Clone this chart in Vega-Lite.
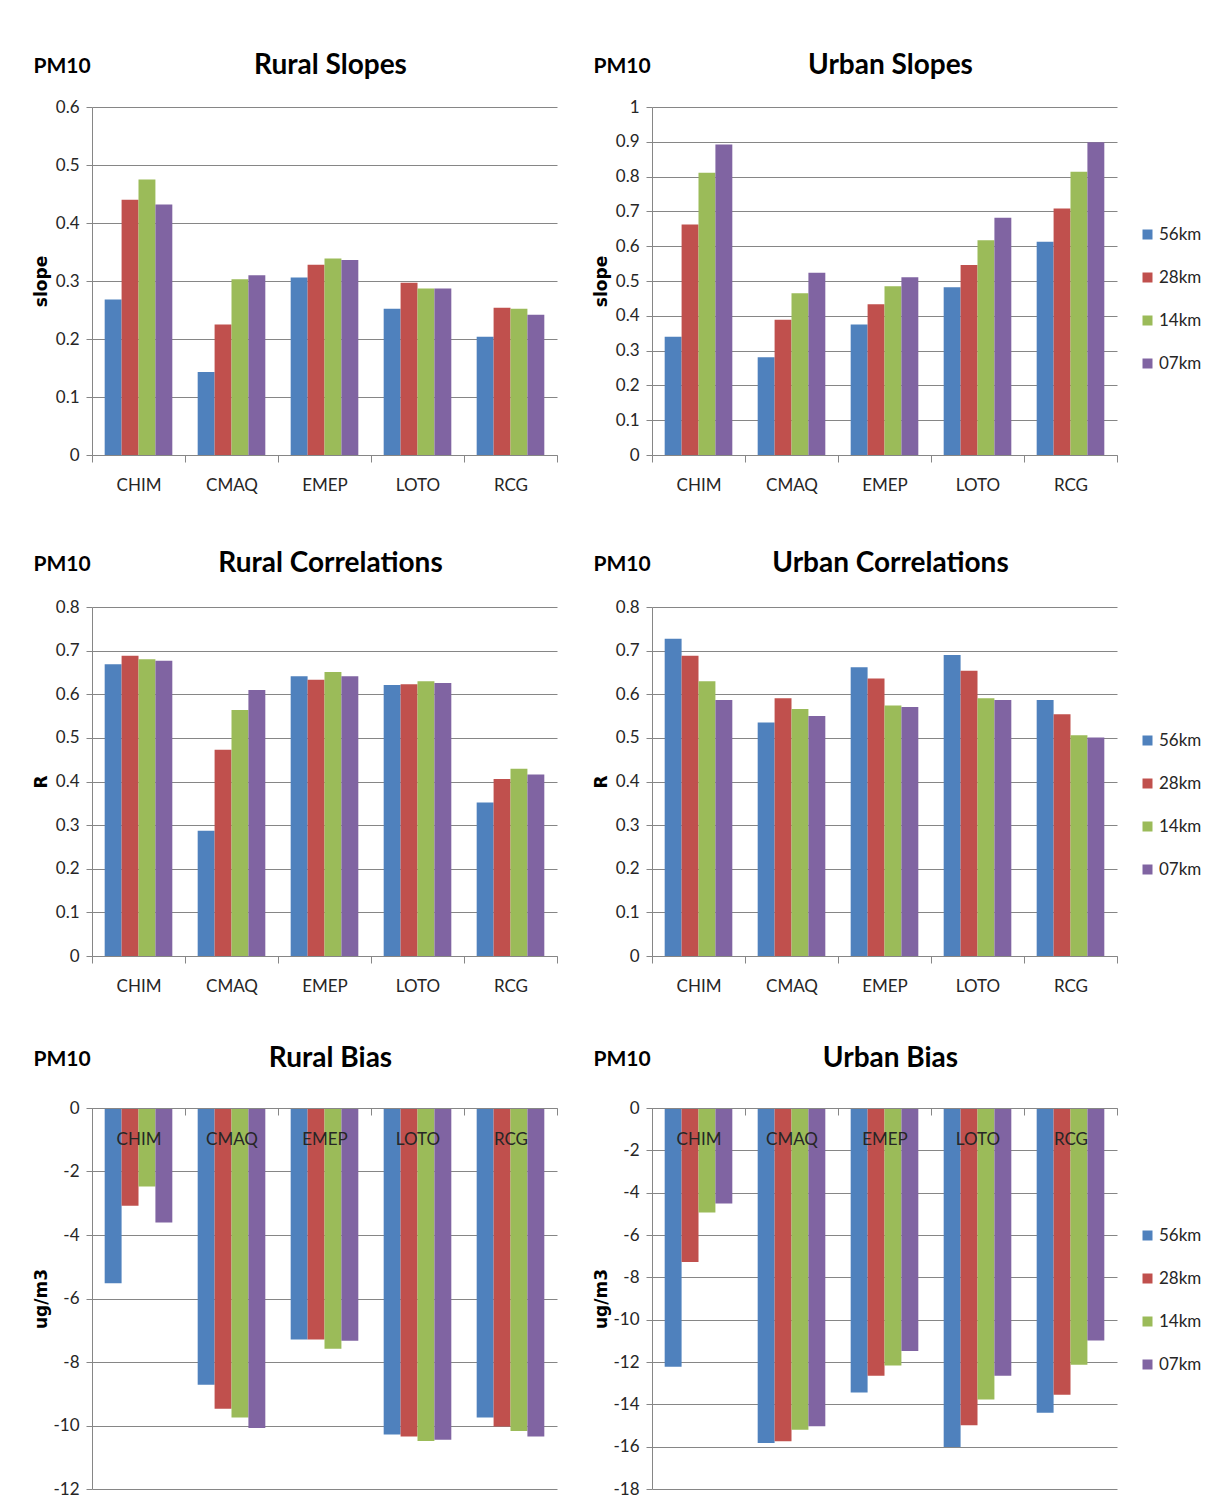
{
  "$schema": "https://vega.github.io/schema/vega-lite/v6.json",
  "background": "white",
  "padding": {"left": 32, "top": 52, "right": 11, "bottom": 22},
  "columns": 2,
  "spacing": {"row": 152, "column": 95},
  "bounds": "flush",
  "resolve": {
    "scale": {"x": "independent", "y": "independent", "xOffset": "independent", "color": "independent"},
    "axis": {"x": "independent", "y": "independent"},
    "legend": {"color": "independent"}
  },
  "datasets": {
    "rural_slopes": [
      {"model": "CHIM", "res": "56km", "value": 0.268}, {"model": "CHIM", "res": "28km", "value": 0.440}, {"model": "CHIM", "res": "14km", "value": 0.475}, {"model": "CHIM", "res": "07km", "value": 0.432},
      {"model": "CMAQ", "res": "56km", "value": 0.143}, {"model": "CMAQ", "res": "28km", "value": 0.225}, {"model": "CMAQ", "res": "14km", "value": 0.303}, {"model": "CMAQ", "res": "07km", "value": 0.310},
      {"model": "EMEP", "res": "56km", "value": 0.306}, {"model": "EMEP", "res": "28km", "value": 0.328}, {"model": "EMEP", "res": "14km", "value": 0.339}, {"model": "EMEP", "res": "07km", "value": 0.336},
      {"model": "LOTO", "res": "56km", "value": 0.252}, {"model": "LOTO", "res": "28km", "value": 0.297}, {"model": "LOTO", "res": "14km", "value": 0.287}, {"model": "LOTO", "res": "07km", "value": 0.287},
      {"model": "RCG", "res": "56km", "value": 0.204}, {"model": "RCG", "res": "28km", "value": 0.254}, {"model": "RCG", "res": "14km", "value": 0.252}, {"model": "RCG", "res": "07km", "value": 0.242}
    ],
    "urban_slopes": [
      {"model": "CHIM", "res": "56km", "value": 0.340}, {"model": "CHIM", "res": "28km", "value": 0.662}, {"model": "CHIM", "res": "14km", "value": 0.811}, {"model": "CHIM", "res": "07km", "value": 0.892},
      {"model": "CMAQ", "res": "56km", "value": 0.281}, {"model": "CMAQ", "res": "28km", "value": 0.389}, {"model": "CMAQ", "res": "14km", "value": 0.465}, {"model": "CMAQ", "res": "07km", "value": 0.524},
      {"model": "EMEP", "res": "56km", "value": 0.375}, {"model": "EMEP", "res": "28km", "value": 0.433}, {"model": "EMEP", "res": "14km", "value": 0.485}, {"model": "EMEP", "res": "07km", "value": 0.511},
      {"model": "LOTO", "res": "56km", "value": 0.482}, {"model": "LOTO", "res": "28km", "value": 0.546}, {"model": "LOTO", "res": "14km", "value": 0.617}, {"model": "LOTO", "res": "07km", "value": 0.682},
      {"model": "RCG", "res": "56km", "value": 0.613}, {"model": "RCG", "res": "28km", "value": 0.708}, {"model": "RCG", "res": "14km", "value": 0.814}, {"model": "RCG", "res": "07km", "value": 0.899}
    ],
    "rural_corr": [
      {"model": "CHIM", "res": "56km", "value": 0.669}, {"model": "CHIM", "res": "28km", "value": 0.688}, {"model": "CHIM", "res": "14km", "value": 0.680}, {"model": "CHIM", "res": "07km", "value": 0.677},
      {"model": "CMAQ", "res": "56km", "value": 0.287}, {"model": "CMAQ", "res": "28km", "value": 0.473}, {"model": "CMAQ", "res": "14km", "value": 0.564}, {"model": "CMAQ", "res": "07km", "value": 0.610},
      {"model": "EMEP", "res": "56km", "value": 0.641}, {"model": "EMEP", "res": "28km", "value": 0.633}, {"model": "EMEP", "res": "14km", "value": 0.651}, {"model": "EMEP", "res": "07km", "value": 0.641},
      {"model": "LOTO", "res": "56km", "value": 0.621}, {"model": "LOTO", "res": "28km", "value": 0.623}, {"model": "LOTO", "res": "14km", "value": 0.630}, {"model": "LOTO", "res": "07km", "value": 0.626},
      {"model": "RCG", "res": "56km", "value": 0.352}, {"model": "RCG", "res": "28km", "value": 0.406}, {"model": "RCG", "res": "14km", "value": 0.429}, {"model": "RCG", "res": "07km", "value": 0.416}
    ],
    "urban_corr": [
      {"model": "CHIM", "res": "56km", "value": 0.727}, {"model": "CHIM", "res": "28km", "value": 0.688}, {"model": "CHIM", "res": "14km", "value": 0.630}, {"model": "CHIM", "res": "07km", "value": 0.587},
      {"model": "CMAQ", "res": "56km", "value": 0.535}, {"model": "CMAQ", "res": "28km", "value": 0.591}, {"model": "CMAQ", "res": "14km", "value": 0.566}, {"model": "CMAQ", "res": "07km", "value": 0.550},
      {"model": "EMEP", "res": "56km", "value": 0.662}, {"model": "EMEP", "res": "28km", "value": 0.636}, {"model": "EMEP", "res": "14km", "value": 0.574}, {"model": "EMEP", "res": "07km", "value": 0.571},
      {"model": "LOTO", "res": "56km", "value": 0.690}, {"model": "LOTO", "res": "28km", "value": 0.654}, {"model": "LOTO", "res": "14km", "value": 0.591}, {"model": "LOTO", "res": "07km", "value": 0.587},
      {"model": "RCG", "res": "56km", "value": 0.587}, {"model": "RCG", "res": "28km", "value": 0.554}, {"model": "RCG", "res": "14km", "value": 0.506}, {"model": "RCG", "res": "07km", "value": 0.501}
    ],
    "rural_bias": [
      {"model": "CHIM", "res": "56km", "value": -5.52}, {"model": "CHIM", "res": "28km", "value": -3.08}, {"model": "CHIM", "res": "14km", "value": -2.47}, {"model": "CHIM", "res": "07km", "value": -3.61},
      {"model": "CMAQ", "res": "56km", "value": -8.72}, {"model": "CMAQ", "res": "28km", "value": -9.47}, {"model": "CMAQ", "res": "14km", "value": -9.75}, {"model": "CMAQ", "res": "07km", "value": -10.08},
      {"model": "EMEP", "res": "56km", "value": -7.29}, {"model": "EMEP", "res": "28km", "value": -7.29}, {"model": "EMEP", "res": "14km", "value": -7.58}, {"model": "EMEP", "res": "07km", "value": -7.33},
      {"model": "LOTO", "res": "56km", "value": -10.28}, {"model": "LOTO", "res": "28km", "value": -10.35}, {"model": "LOTO", "res": "14km", "value": -10.49}, {"model": "LOTO", "res": "07km", "value": -10.45},
      {"model": "RCG", "res": "56km", "value": -9.75}, {"model": "RCG", "res": "28km", "value": -10.03}, {"model": "RCG", "res": "14km", "value": -10.17}, {"model": "RCG", "res": "07km", "value": -10.35}
    ],
    "urban_bias": [
      {"model": "CHIM", "res": "56km", "value": -12.22}, {"model": "CHIM", "res": "28km", "value": -7.27}, {"model": "CHIM", "res": "14km", "value": -4.94}, {"model": "CHIM", "res": "07km", "value": -4.51},
      {"model": "CMAQ", "res": "56km", "value": -15.83}, {"model": "CMAQ", "res": "28km", "value": -15.74}, {"model": "CMAQ", "res": "14km", "value": -15.20}, {"model": "CMAQ", "res": "07km", "value": -15.04},
      {"model": "EMEP", "res": "56km", "value": -13.44}, {"model": "EMEP", "res": "28km", "value": -12.65}, {"model": "EMEP", "res": "14km", "value": -12.17}, {"model": "EMEP", "res": "07km", "value": -11.48},
      {"model": "LOTO", "res": "56km", "value": -16.02}, {"model": "LOTO", "res": "28km", "value": -14.99}, {"model": "LOTO", "res": "14km", "value": -13.77}, {"model": "LOTO", "res": "07km", "value": -12.65},
      {"model": "RCG", "res": "56km", "value": -14.40}, {"model": "RCG", "res": "28km", "value": -13.55}, {"model": "RCG", "res": "14km", "value": -12.13}, {"model": "RCG", "res": "07km", "value": -10.99}
    ]
  },
  "concat": [
    {
      "width": 465, "height": 348,
      "data": {"name": "rural_slopes"},
      "title": {"text": "Rural Slopes", "dx": 6},
      "mark": "bar",
      "encoding": {
        "x": {"field": "model", "type": "nominal", "scale": {"paddingInner": 0, "paddingOuter": 0}, "axis": {"title": "PM10", "titleY": -383}},
        "xOffset": {"field": "res", "type": "nominal", "sort": ["56km", "28km", "14km", "07km"], "scale": {"paddingInner": 0, "paddingOuter": 0.75}},
        "y": {"field": "value", "type": "quantitative", "scale": {"domain": [0, 0.6], "nice": false}, "axis": {"title": "slope", "titleY": 174, "values": [0, 0.1, 0.2, 0.3, 0.4, 0.5, 0.6]}},
        "color": {"field": "res", "type": "nominal", "scale": {"domain": ["56km", "28km", "14km", "07km"], "range": ["#4F81BD", "#C0504D", "#9BBB59", "#8064A2"]}, "legend": null}
      }
    },
    {
      "width": 465, "height": 348,
      "data": {"name": "urban_slopes"},
      "title": {"text": "Urban Slopes", "dx": 6},
      "mark": "bar",
      "encoding": {
        "x": {"field": "model", "type": "nominal", "scale": {"paddingInner": 0, "paddingOuter": 0}, "axis": {"title": "PM10", "titleY": -383}},
        "xOffset": {"field": "res", "type": "nominal", "sort": ["56km", "28km", "14km", "07km"], "scale": {"paddingInner": 0, "paddingOuter": 0.75}},
        "y": {"field": "value", "type": "quantitative", "scale": {"domain": [0, 1], "nice": false}, "axis": {"title": "slope", "titleY": 174, "values": [0, 0.1, 0.2, 0.3, 0.4, 0.5, 0.6, 0.7, 0.8, 0.9, 1]}},
        "color": {"field": "res", "type": "nominal", "scale": {"domain": ["56km", "28km", "14km", "07km"], "range": ["#4F81BD", "#C0504D", "#9BBB59", "#8064A2"]}, "legend": {"legendY": 119}}
      }
    },
    {
      "width": 465, "height": 349,
      "data": {"name": "rural_corr"},
      "title": {"text": "Rural Correlations", "dx": 6},
      "mark": "bar",
      "encoding": {
        "x": {"field": "model", "type": "nominal", "scale": {"paddingInner": 0, "paddingOuter": 0}, "axis": {"title": "PM10", "titleY": -386}},
        "xOffset": {"field": "res", "type": "nominal", "sort": ["56km", "28km", "14km", "07km"], "scale": {"paddingInner": 0, "paddingOuter": 0.75}},
        "y": {"field": "value", "type": "quantitative", "scale": {"domain": [0, 0.8], "nice": false}, "axis": {"title": "R", "titleY": 174.5, "values": [0, 0.1, 0.2, 0.3, 0.4, 0.5, 0.6, 0.7, 0.8]}},
        "color": {"field": "res", "type": "nominal", "scale": {"domain": ["56km", "28km", "14km", "07km"], "range": ["#4F81BD", "#C0504D", "#9BBB59", "#8064A2"]}, "legend": null}
      }
    },
    {
      "width": 465, "height": 349,
      "data": {"name": "urban_corr"},
      "title": {"text": "Urban Correlations", "dx": 6},
      "mark": "bar",
      "encoding": {
        "x": {"field": "model", "type": "nominal", "scale": {"paddingInner": 0, "paddingOuter": 0}, "axis": {"title": "PM10", "titleY": -386}},
        "xOffset": {"field": "res", "type": "nominal", "sort": ["56km", "28km", "14km", "07km"], "scale": {"paddingInner": 0, "paddingOuter": 0.75}},
        "y": {"field": "value", "type": "quantitative", "scale": {"domain": [0, 0.8], "nice": false}, "axis": {"title": "R", "titleY": 174.5, "values": [0, 0.1, 0.2, 0.3, 0.4, 0.5, 0.6, 0.7, 0.8]}},
        "color": {"field": "res", "type": "nominal", "scale": {"domain": ["56km", "28km", "14km", "07km"], "range": ["#4F81BD", "#C0504D", "#9BBB59", "#8064A2"]}, "legend": {"legendY": 125}}
      }
    },
    {
      "width": 465, "height": 381,
      "data": {"name": "rural_bias"},
      "title": {"text": "Rural Bias", "dx": 6},
      "mark": "bar",
      "encoding": {
        "x": {"field": "model", "type": "nominal", "scale": {"paddingInner": 0, "paddingOuter": 0}, "axis": {"title": "PM10", "titleY": -43, "offset": -381, "labelPadding": 16, "zindex": 1}},
        "xOffset": {"field": "res", "type": "nominal", "sort": ["56km", "28km", "14km", "07km"], "scale": {"paddingInner": 0, "paddingOuter": 0.75}},
        "y": {"field": "value", "type": "quantitative", "scale": {"domain": [-12, 0], "nice": false}, "axis": {"title": "ug/m3", "titleY": 190.5, "values": [0, -2, -4, -6, -8, -10, -12]}},
        "color": {"field": "res", "type": "nominal", "scale": {"domain": ["56km", "28km", "14km", "07km"], "range": ["#4F81BD", "#C0504D", "#9BBB59", "#8064A2"]}, "legend": null}
      }
    },
    {
      "width": 465, "height": 381,
      "data": {"name": "urban_bias"},
      "title": {"text": "Urban Bias", "dx": 6},
      "mark": "bar",
      "encoding": {
        "x": {"field": "model", "type": "nominal", "scale": {"paddingInner": 0, "paddingOuter": 0}, "axis": {"title": "PM10", "titleY": -43, "offset": -381, "labelPadding": 16, "zindex": 1}},
        "xOffset": {"field": "res", "type": "nominal", "sort": ["56km", "28km", "14km", "07km"], "scale": {"paddingInner": 0, "paddingOuter": 0.75}},
        "y": {"field": "value", "type": "quantitative", "scale": {"domain": [-18, 0], "nice": false}, "axis": {"title": "ug/m3", "titleY": 190.5, "values": [0, -2, -4, -6, -8, -10, -12, -14, -16, -18]}},
        "color": {"field": "res", "type": "nominal", "scale": {"domain": ["56km", "28km", "14km", "07km"], "range": ["#4F81BD", "#C0504D", "#9BBB59", "#8064A2"]}, "legend": {"legendY": 119}}
      }
    }
  ],
  "config": {
    "font": "Lato, sans-serif",
    "view": {"stroke": null},
    "locale": {"number": {"decimal": ".", "thousands": ",", "grouping": [3], "currency": ["$", ""], "minus": "-"}},
    "title": {"fontSize": 28, "fontWeight": "bold", "color": "#000000", "anchor": "middle", "baseline": "alphabetic", "offset": -25, "font": "Lato, sans-serif"},
    "axis": {"domainColor": "#868686", "tickColor": "#868686", "gridColor": "#868686", "gridWidth": 1, "labelColor": "#262626", "labelFontSize": 17, "labelFont": "Lato, sans-serif"},
    "axisX": {"grid": false, "labelAngle": 0, "tickBand": "extent", "tickSize": 7, "labelPadding": 15, "titleAngle": 0, "titleX": -59, "titleAlign": "left", "titleBaseline": "alphabetic", "titleFontSize": 21, "titleFontWeight": "bold", "titleColor": "#000000", "titleFont": "Lato, sans-serif"},
    "axisY": {"grid": true, "tickSize": 6, "labelPadding": 7, "format": "~g", "titleAngle": -90, "titleX": -46, "titleAlign": "center", "titleBaseline": "alphabetic", "titleFontSize": 17, "titleFontWeight": "bold", "titleColor": "#000000", "titleFont": "DejaVu Sans, Verdana, sans-serif"},
    "legend": {"title": null, "orient": "none", "legendX": 487, "direction": "vertical", "symbolType": "square", "symbolSize": 100, "symbolStrokeWidth": 0, "labelFontSize": 17, "labelColor": "#262626", "labelOffset": 3, "rowPadding": 25, "padding": 0, "labelFont": "Lato, sans-serif"}
  }
}
